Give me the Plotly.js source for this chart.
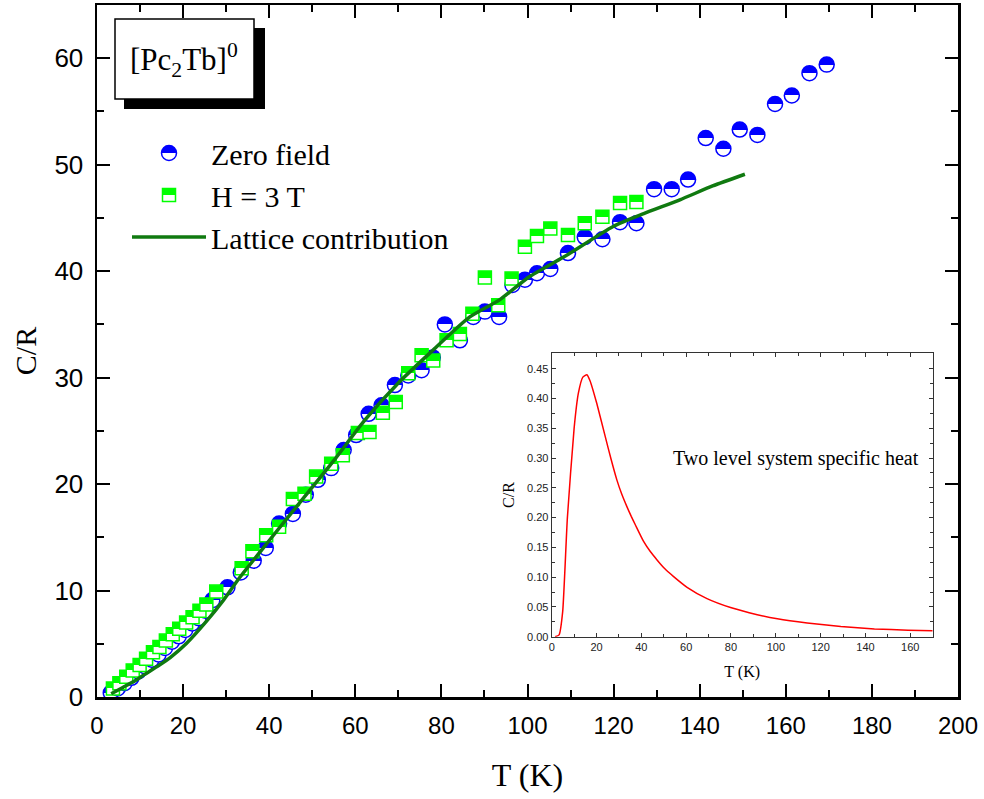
<!DOCTYPE html>
<html>
<head>
<meta charset="utf-8">
<script src="https://cdn.plot.ly/plotly-3.0.1.min.js"></script>
<style>html,body{margin:0;padding:0;background:#fff;}#chart{width:984px;height:799px;}</style>
</head>
<body>
<div id="chart"></div>
<script>
// ---- Zero field data (blue half-filled circles) ----
const T_zero = [3.2, 4.8, 6.4, 8.0, 9.6, 11.1, 12.7, 14.3, 15.8, 17.4, 19.0, 20.5, 22.1, 23.6, 25.2, 26.8,
  30.3, 33.4, 36.4, 39.2, 42.3, 45.5, 48.5, 51.3, 54.4, 57.3, 60.2, 63.1, 66.1, 69.2, 72.3, 75.4, 78.0,
  80.8, 84.3, 87.4, 90.1, 93.4, 96.5, 99.4, 102.2, 105.3, 109.4, 113.3, 117.4, 121.5, 125.3, 129.4, 133.5,
  137.3, 141.4, 145.5, 149.3, 153.4, 157.5, 161.4, 165.5, 169.5];
const C_zero = [0.4, 0.8, 1.3, 1.8, 2.4, 2.9, 3.5, 4.0, 4.6, 5.2, 5.7, 6.3, 6.9, 7.4, 8.1, 9.1,
  10.3, 11.7, 12.8, 14.0, 16.3, 17.2, 19.0, 20.4, 21.5, 23.2, 24.6, 26.6, 27.4, 29.3, 30.2, 30.7, 31.9,
  35.0, 33.5, 35.7, 36.2, 35.7, 38.7, 39.2, 39.8, 40.2, 41.7, 43.2, 43.0, 44.6, 44.5, 47.7, 47.7,
  48.6, 52.5, 51.5, 53.3, 52.8, 55.7, 56.5, 58.6, 59.4];

// ---- H = 3 T data (green half-filled squares) ----
const T_field = [3.7, 5.2, 6.8, 8.3, 9.9, 11.4, 13.0, 14.5, 16.0, 17.6, 19.1, 20.7, 22.2, 23.8, 25.4, 27.7,
  33.6, 36.1, 39.3, 42.3, 45.5, 48.2, 50.9, 54.4, 57.1, 60.6, 63.3, 66.4, 69.4, 72.3, 75.4, 78.1,
  81.2, 84.3, 87.2, 90.1, 93.2, 96.3, 99.4, 102.2, 105.3, 109.4, 113.3, 117.4, 121.5, 125.3];
const C_field = [0.8, 1.3, 1.9, 2.5, 3.0, 3.6, 4.2, 4.7, 5.3, 5.9, 6.4, 7.0, 7.5, 8.1, 8.7, 9.9,
  12.1, 13.7, 15.2, 16.0, 18.6, 19.1, 20.7, 21.9, 22.7, 24.8, 24.9, 26.7, 27.7, 30.4, 32.1, 31.6,
  33.5, 34.1, 36.0, 39.4, 36.8, 39.3, 42.3, 43.3, 44.0, 43.4, 44.5, 45.1, 46.4, 46.5];

// ---- Lattice contribution (line) ----
const T_lat = [3.3, 6.0, 8.3, 11.0, 14.5, 17.0, 20.7, 25.4, 29.2, 33.1, 40.0, 49.4, 55.0, 62.2, 70.0,
  77.3, 86.6, 93.5, 100.5, 108.3, 119.9, 127.0, 135.4, 143.0, 150.5];
const C_lat = [0.3, 0.9, 1.4, 2.1, 3.0, 3.7, 5.0, 7.1, 9.0, 11.2, 14.7, 19.4, 22.2, 26.0, 29.5,
  32.3, 35.7, 37.3, 39.5, 41.3, 44.2, 45.4, 46.7, 48.0, 49.1];

// ---- Inset: two level system specific heat ----
const T_tls = [1.5, 3.3, 4.9, 7.0, 10.0, 11.9, 13.9, 15.7, 17.1, 20.1, 23.9, 26.5, 29.1, 31.2, 33.6, 35.5, 37.3, 41.0,
  44.0, 47.0, 50.5, 54.4, 60.4, 69.3, 79.8, 91.7, 100.7, 114.0, 129.0, 144.0, 159.0, 170.0];
const C_tls = [0.0, 0.003, 0.042, 0.200, 0.350, 0.409, 0.436, 0.440, 0.430, 0.392, 0.336, 0.298, 0.263, 0.240, 0.218,
  0.202, 0.188, 0.160, 0.143, 0.129, 0.114, 0.101, 0.083, 0.064, 0.049, 0.037, 0.030, 0.023, 0.017, 0.013, 0.011, 0.010];

// ---- Text ----
const legendNames = ['Zero field', 'H = 3 T', 'Lattice contribution'];
const compoundLabel = '[Pc<sub>2</sub>Tb]<sup>0</sup>';
const insetLabel = 'Two level system specific heat';

const serif = 'Liberation Serif, Times New Roman, serif';
const sans = 'Liberation Sans, Arial, sans-serif';

const traces = [
  {x: T_zero, y: C_zero, type: 'scatter', mode: 'markers', name: legendNames[0], legendgroup: 'a',
   marker: {symbol: 'circle', size: 15, color: '#0000ff', gradient: {type: 'vertical', color: '#ffffff'},
            line: {color: '#0000ff', width: 1.5}}},
  {x: T_field, y: C_field, type: 'scatter', mode: 'markers', name: legendNames[1], legendgroup: 'b',
   marker: {symbol: 'square', size: 13, color: '#00ff00', gradient: {type: 'vertical', color: '#ffffff'},
            line: {color: '#00ff00', width: 1.5}}},
  {x: T_lat, y: C_lat, type: 'scatter', mode: 'lines', name: legendNames[2], legendgroup: 'c',
   line: {color: '#107a10', width: 3.5, shape: 'spline', smoothing: 0.6}},
  {x: T_tls, y: C_tls, type: 'scatter', mode: 'lines', xaxis: 'x2', yaxis: 'y2', showlegend: false,
   line: {color: '#ff0000', width: 1.5, shape: 'spline', smoothing: 0.5}}
];

const px2x = p => (p - 97) / 861;
const px2y = p => (697 - p) / 692;

const layout = {
  width: 984, height: 799,
  margin: {l: 97, r: 26, t: 5, b: 102},
  paper_bgcolor: '#ffffff', plot_bgcolor: '#ffffff',
  showlegend: true,
  legend: {x: px2x(127), y: px2y(127), xanchor: 'left', yanchor: 'top', bgcolor: 'rgba(0,0,0,0)',
           font: {family: serif, size: 30, color: '#000'}, tracegroupgap: 0, itemwidth: 74, traceorder: 'grouped'},
  xaxis: {range: [0, 200], dtick: 20, tick0: 0, ticks: 'inside', ticklen: 13, tickwidth: 2, tickcolor: '#000',
          minor: {dtick: 10, ticks: 'inside', ticklen: 7, tickwidth: 2, tickcolor: '#000'},
          showline: true, linewidth: 2.5, linecolor: '#000', mirror: 'allticks', showgrid: false, zeroline: false,
          tickfont: {family: sans, size: 24, color: '#000'}, ticklabelstandoff: 6,
          title: {text: 'T (K)', font: {family: serif, size: 32, color: '#000'}, standoff: 26}},
  yaxis: {range: [0, 65], dtick: 10, tick0: 0, ticks: 'inside', ticklen: 13, tickwidth: 2, tickcolor: '#000',
          minor: {dtick: 5, ticks: 'inside', ticklen: 7, tickwidth: 2, tickcolor: '#000'},
          showline: true, linewidth: 2.5, linecolor: '#000', mirror: 'allticks', showgrid: false, zeroline: false,
          tickfont: {family: sans, size: 26, color: '#000'}, ticklabelstandoff: 6,
          title: {text: 'C/R', font: {family: serif, size: 30, color: '#000'}, standoff: 9}},
  xaxis2: {domain: [px2x(551.7), px2x(932.7)], anchor: 'y2', range: [0, 170], dtick: 20, tick0: 0,
           ticks: 'inside', ticklen: 4, tickwidth: 1, tickcolor: '#333',
           minor: {dtick: 10, ticks: 'inside', ticklen: 3, tickwidth: 1, tickcolor: '#333'},
           showline: true, linewidth: 1, linecolor: '#333', mirror: 'allticks', showgrid: false, zeroline: false,
           tickfont: {family: sans, size: 11, color: '#222'},
           title: {text: 'T (K)', font: {family: serif, size: 16, color: '#000'}, standoff: 13}},
  yaxis2: {domain: [px2y(636.7), px2y(353.3)], anchor: 'x2', range: [0, 0.476], dtick: 0.05, tick0: 0,
           tickformat: '.2f', ticks: 'inside', ticklen: 4, tickwidth: 1, tickcolor: '#333',
           minor: {dtick: 0.025, ticks: 'inside', ticklen: 3, tickwidth: 1, tickcolor: '#333'},
           showline: true, linewidth: 1, linecolor: '#333', mirror: 'allticks', showgrid: false, zeroline: false,
           tickfont: {family: sans, size: 11, color: '#222'},
           title: {text: 'C/R', font: {family: serif, size: 16, color: '#000'}, standoff: 8}},
  shapes: [
    {type: 'rect', xref: 'paper', yref: 'paper', x0: px2x(124), x1: px2x(265), y0: px2y(109), y1: px2y(28),
     fillcolor: '#000', line: {width: 0}, layer: 'above'},
    {type: 'rect', xref: 'paper', yref: 'paper', x0: px2x(115), x1: px2x(254), y0: px2y(99), y1: px2y(19),
     fillcolor: '#fff', line: {color: '#000', width: 1.5}, layer: 'above'}
  ],
  annotations: [
    {xref: 'paper', yref: 'paper', x: px2x(184), y: px2y(60), text: compoundLabel, showarrow: false,
     xanchor: 'center', yanchor: 'middle', font: {family: serif, size: 31, color: '#000'}},
    {xref: 'paper', yref: 'paper', x: px2x(796), y: px2y(458), text: insetLabel, showarrow: false,
     xanchor: 'center', yanchor: 'middle', font: {family: serif, size: 20, color: '#000'}}
  ]
};

function hardenGradients() {
  const NS = 'http://www.w3.org/2000/svg';
  document.querySelectorAll('#chart linearGradient').forEach(g => {
    const stops = g.querySelectorAll('stop');
    if (stops.length < 2) return;
    const c0 = stops[0].getAttribute('stop-color');
    const c1 = stops[stops.length - 1].getAttribute('stop-color');
    while (g.firstChild) g.removeChild(g.firstChild);
    [[0, c0], [50, c0], [50, c1], [100, c1]].forEach(([o, c]) => {
      const s = document.createElementNS(NS, 'stop');
      s.setAttribute('offset', o + '%');
      s.setAttribute('stop-color', c);
      g.appendChild(s);
    });
  });
}

Plotly.newPlot('chart', traces, layout, {displayModeBar: false, staticPlot: true}).then(hardenGradients);
</script>
</body>
</html>
